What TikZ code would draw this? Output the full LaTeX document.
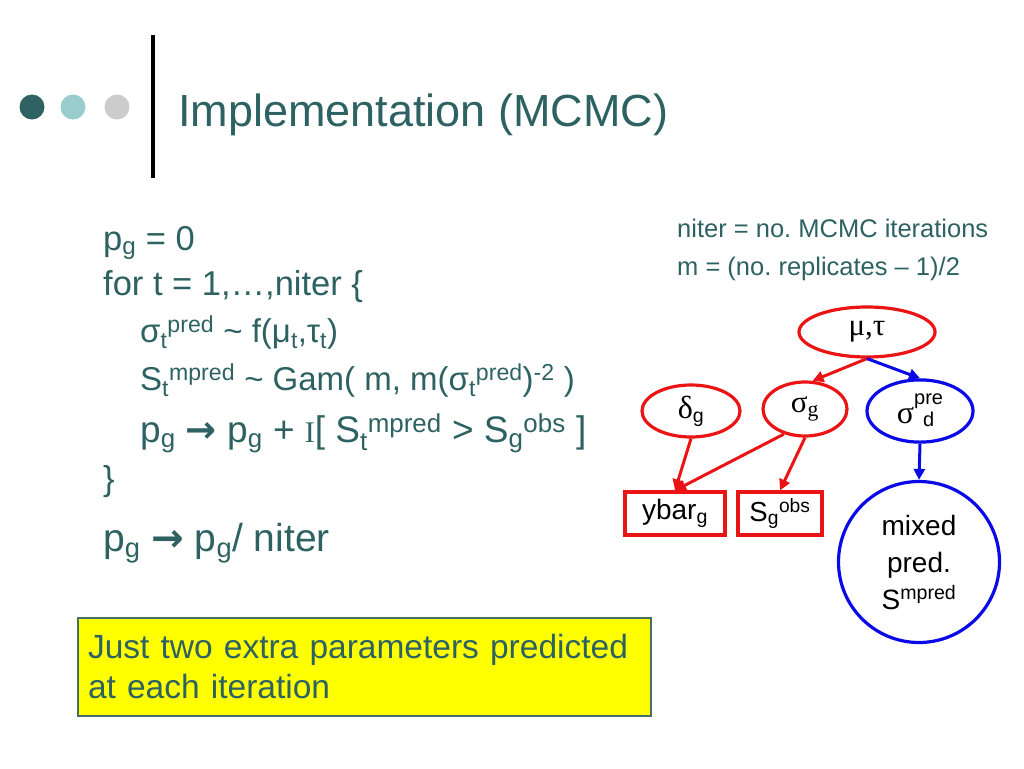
\documentclass[tikz,border=0pt]{standalone}
\usepackage{fontspec}
\setmainfont{Liberation Sans}
\newfontfamily\serifgr{Liberation Serif}
\newfontfamily\arrowfont{DejaVu Sans}
\usetikzlibrary{shapes.geometric,arrows.meta}
\frenchspacing
\definecolor{tealtxt}{RGB}{46,98,98}
\definecolor{dotA}{RGB}{47,96,98}
\definecolor{dotB}{RGB}{153,204,204}
\definecolor{dotC}{RGB}{204,204,204}
\definecolor{rednode}{RGB}{235,20,20}
\definecolor{bluenode}{RGB}{10,10,230}
\definecolor{boxborder}{RGB}{70,110,100}
\definecolor{boxfill}{RGB}{255,255,0}
\newcommand\fs[2]{\fontsize{#1}{#2}\selectfont}
\newcommand\mysub[1]{\textsubscript{#1}}
\newcommand\mysup[1]{\textsuperscript{#1}}
\newcommand\bigarrow{{\arrowfont\bfseries →}}
\tikzset{
  txt/.style={anchor=base west, inner sep=0pt, text=tealtxt},
  body/.style={txt, font=\fs{34.5}{40}},
  bodysub/.style={txt, font=\fs{33}{38}},
  bodybig/.style={txt, font=\fs{37}{44}},
  small/.style={txt, font=\fs{25.5}{30}},
  dotnode/.style={circle, inner sep=0pt, minimum size=25pt},
  redell/.style={ellipse, draw=rednode, line width=3.2pt, inner sep=0pt},
  blueell/.style={ellipse, draw=bluenode, line width=3.2pt, inner sep=0pt},
  redbox/.style={rectangle, draw=rednode, line width=3.2pt, inner sep=0pt},
  redarr/.style={draw=rednode, line width=3pt, -{Triangle[length=11pt,width=11pt]}},
  bluearr/.style={draw=bluenode, line width=3pt, -{Triangle[length=11pt,width=11pt]}},
}
\begin{document}
\begin{tikzpicture}[x=1pt,y=-1pt]
\useasboundingbox (0,0) rectangle (1024,768);
\fill[white] (0,0) rectangle (1024,768);
% header
\node[dotnode, fill=dotA] (d1) at (32,107) {};
\node[dotnode, fill=dotB] (d2) at (73,107) {};
\node[dotnode, fill=dotC] (d3) at (117,107) {};
\draw[line width=4pt] (153,35) -- (153,178);
\node[txt, font=\fs{45}{54}] (title) at (178,126) {Implementation (MCMC)};
% algorithm
\node[body] (l1) at (103,250) {p\mysub{g} = 0};
\node[body] (l2) at (103,295) {for t = 1,…,niter \{};
\node[bodysub] (l3) at (140,342) {σ\mysub{t}\mysup{pred} \textasciitilde\ f(μ\mysub{t},τ\mysub{t})};
\node[bodysub] (l4) at (140,390) {S\mysub{t}\mysup{mpred} \textasciitilde\ Gam( m, m(σ\mysub{t}\mysup{pred})\mysup{-2} )};
\node[bodybig] (l5) at (140,442) {p\mysub{g} \bigarrow\ p\mysub{g} + {\serifgr\fs{30}{34}I}[ S\mysub{t}\mysup{mpred} > S\mysub{g}\mysup{obs} ]};
\node[body] (l6) at (103,490) {\}};
\node[txt, font=\fs{39}{46}] (l7) at (103,551) {p\mysub{g} \bigarrow\ p\mysub{g}/ niter};
% notes
\node[small] (n1) at (677,237) {niter = no. MCMC iterations};
\node[small] (n2) at (677,275) {m = (no. replicates – 1)/2};
% yellow box
\node[draw=boxborder, line width=2pt, fill=boxfill, anchor=north west,
      minimum width=573pt, minimum height=98pt, text width=553pt,
      inner xsep=10pt, inner ysep=0pt, align=left, text=tealtxt,
      font=\fs{33.5}{40}] (note) at (77,617)
      {Just two extra parameters predicted\\at each iteration};
% graph
\node[redell, minimum width=136pt, minimum height=50pt, font=\serifgr\fs{31}{34}] (mu) at (867,332) {μ,τ};
\node[redell, minimum width=98pt, minimum height=52pt, font=\fs{28}{32}] (delta) at (691,411) {{\serifgr\fs{32}{34}δ}\mysub{g}};
\node[redell, minimum width=84pt, minimum height=54pt, font=\serifgr\fs{31}{34}] (sigma) at (805,409) {σ\mysub{g}};
\node[blueell, minimum width=106pt, minimum height=54pt, font=\fs{28}{32}] (sigp) at (920,411)
  {{\serifgr\fs{32}{34}σ}\raisebox{-3pt}{\fs{20}{22}\begin{tabular}[b]{@{}c@{}}pre\\d\end{tabular}}};
\node[redbox, minimum width=100pt, minimum height=43pt, font=\fs{28}{30}] (ybar) at (675,513.5) {ybar\mysub{g}};
\node[redbox, minimum width=84pt, minimum height=43pt, font=\fs{27.5}{30}] (sobs) at (780,513.5) {S\mysub{g}\mysup{obs}};
\node[circle, draw=bluenode, line width=3.2pt, minimum size=161pt, inner sep=0pt, align=center, font=\fs{28}{37}] (mixed) at (919,562)
  {mixed\\pred.\\S\mysup{mpred}};
% connectors
\draw[redarr] (mu.south) -- (sigma.75);
\draw[bluearr] (mu.south) -- (sigp.north);
\draw[redarr] (delta.south) -- (ybar.north);
\draw[redarr] (sigma.230) -- (ybar.north);
\draw[redarr] (sigma.south) -- (sobs.north);
\draw[bluearr] (sigp.south) -- (mixed.north);
\end{tikzpicture}
\end{document}
